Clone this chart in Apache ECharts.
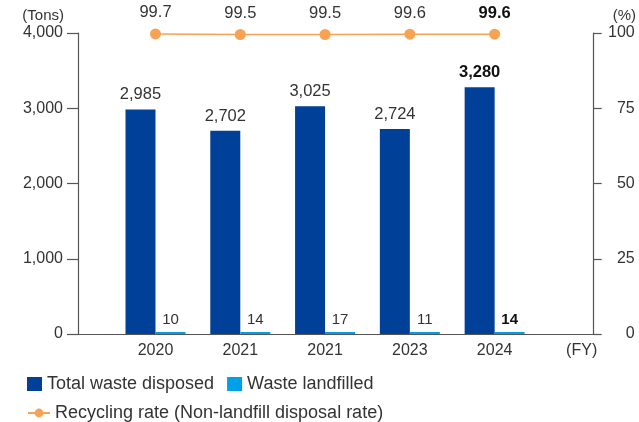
<!DOCTYPE html>
<html>
<head>
<meta charset="utf-8">
<script src="https://cdn.jsdelivr.net/npm/echarts@6/dist/echarts.min.js"></script>
<style>
  html, body { margin: 0; padding: 0; background: #fff; }
  #chart { width: 639px; height: 422px; }
</style>
</head>
<body>
<div id="chart"></div>
<script>
// Fiscal years shown on the horizontal axis
const years = ['2020', '2021', '2021', '2023', '2024'];
// Total waste disposed (tons)
const totalWaste = [2985, 2702, 3025, 2724, 3280];
// Waste sent to landfill (tons)
const landfilled = [10, 14, 17, 11, 14];
// Recycling rate (%)
const recyclingRate = [99.7, 99.5, 99.5, 99.6, 99.6];
// Left and right axis ticks
const tonTicks = [0, 1000, 2000, 3000, 4000];
const pctTicks = [0, 25, 50, 75, 100];

const FONT = "'Liberation Sans', Arial, sans-serif";
const TEXT = '#333333';
const AXIS = '#555555';
const lastIdx = years.length - 1;

const fmtThousands = v => String(v).replace(/\B(?=(\d{3})+(?!\d))/g, ',');

// Years sit at x = 1..n on a numeric axis
const pos = i => i + 1;

function withBoldLast(values) {
  return values.map((v, i) => {
    const item = { value: [pos(i), v] };
    if (i === lastIdx) item.label = { fontWeight: 'bold', color: '#111' };
    return item;
  });
}

const chart = echarts.init(document.getElementById('chart'), null, { renderer: 'canvas' });

chart.setOption({
  animation: false,
  textStyle: { fontFamily: FONT },
  grid: { left: 78, right: 44, top: 33, bottom: 88, containLabel: false },
  legend: [
    {
      data: ['Total waste disposed', 'Waste landfilled'],
      left: 22, top: 370,
      itemWidth: 15, itemHeight: 14, itemGap: 13,
      icon: 'rect',
      textStyle: { fontFamily: FONT, fontSize: 18, color: TEXT }
    },
    {
      data: ['Recycling rate (Non-landfill disposal rate)'],
      left: 22, top: 399,
      itemWidth: 22, itemHeight: 11,
      textStyle: { fontFamily: FONT, fontSize: 18, color: TEXT }
    }
  ],
  xAxis: {
    type: 'value',
    min: 0.086,
    max: 6.168,
    splitLine: { show: false },
    axisLine: { show: true, onZero: false, lineStyle: { color: AXIS, width: 1.2 } },
    axisTick: { show: false },
    axisLabel: {
      customValues: years.map((_, i) => pos(i)),
      formatter: v => years[Math.round(v) - 1] || '',
      fontFamily: FONT, fontSize: 16, color: TEXT, margin: 9
    },
    name: '(FY)',
    nameLocation: 'end',
    nameGap: -12,
    nameTextStyle: {
      fontFamily: FONT, fontSize: 16, color: TEXT,
      align: 'center', verticalAlign: 'top', padding: [9, 0, 0, 0]
    }
  },
  yAxis: [
    {
      type: 'value',
      position: 'left',
      min: tonTicks[0],
      max: tonTicks[tonTicks.length - 1],
      interval: tonTicks[1] - tonTicks[0],
      splitLine: { show: false },
      axisLine: { show: true, lineStyle: { color: AXIS, width: 1.2 } },
      axisTick: { show: true, length: 11, lineStyle: { color: AXIS, width: 1.2 } },
      axisLabel: {
        formatter: v => fmtThousands(v),
        fontFamily: FONT, fontSize: 16, color: TEXT, margin: 15
      },
      name: '(Tons)',
      nameLocation: 'end',
      nameGap: 17,
      nameTextStyle: {
        fontFamily: FONT, fontSize: 15, color: TEXT,
        align: 'right', verticalAlign: 'middle', padding: [0, 14, 0, 0]
      }
    },
    {
      type: 'value',
      position: 'right',
      min: pctTicks[0],
      max: pctTicks[pctTicks.length - 1],
      interval: pctTicks[1] - pctTicks[0],
      splitLine: { show: false },
      axisLine: { show: true, lineStyle: { color: AXIS, width: 1.2 } },
      axisTick: { show: true, length: 8, lineStyle: { color: AXIS, width: 1.2 } },
      axisLabel: {
        fontFamily: FONT, fontSize: 16, color: TEXT, margin: 41, align: 'right'
      },
      name: '(%)',
      nameLocation: 'end',
      nameGap: 17,
      nameTextStyle: {
        fontFamily: FONT, fontSize: 15, color: TEXT,
        align: 'left', verticalAlign: 'middle', padding: [0, 0, 0, 19]
      }
    }
  ],
  series: [
    {
      name: 'Total waste disposed',
      type: 'bar',
      yAxisIndex: 0,
      barWidth: 30,
      barGap: '0%',
      itemStyle: { color: '#004098' },
      label: {
        show: true, position: 'top', distance: 6,
        fontFamily: FONT, fontSize: 16.5, color: TEXT,
        formatter: p => fmtThousands(p.value[1])
      },
      data: withBoldLast(totalWaste)
    },
    {
      name: 'Waste landfilled',
      type: 'bar',
      yAxisIndex: 0,
      barWidth: 30,
      barGap: '0%',
      barMinHeight: 2,
      itemStyle: { color: '#00A0E9' },
      label: {
        show: true, position: 'top', distance: 5,
        fontFamily: FONT, fontSize: 15, color: TEXT,
        formatter: p => fmtThousands(p.value[1])
      },
      data: withBoldLast(landfilled)
    },
    {
      name: 'Recycling rate (Non-landfill disposal rate)',
      type: 'line',
      yAxisIndex: 1,
      symbol: 'circle',
      symbolSize: 11,
      lineStyle: { color: '#F8A253', width: 1.5 },
      itemStyle: { color: '#F8A253' },
      label: {
        show: true, position: 'top', distance: 7,
        fontFamily: FONT, fontSize: 16.5, color: TEXT,
        formatter: p => p.value[1].toFixed(1)
      },
      data: withBoldLast(recyclingRate)
    }
  ]
});
</script>
</body>
</html>
